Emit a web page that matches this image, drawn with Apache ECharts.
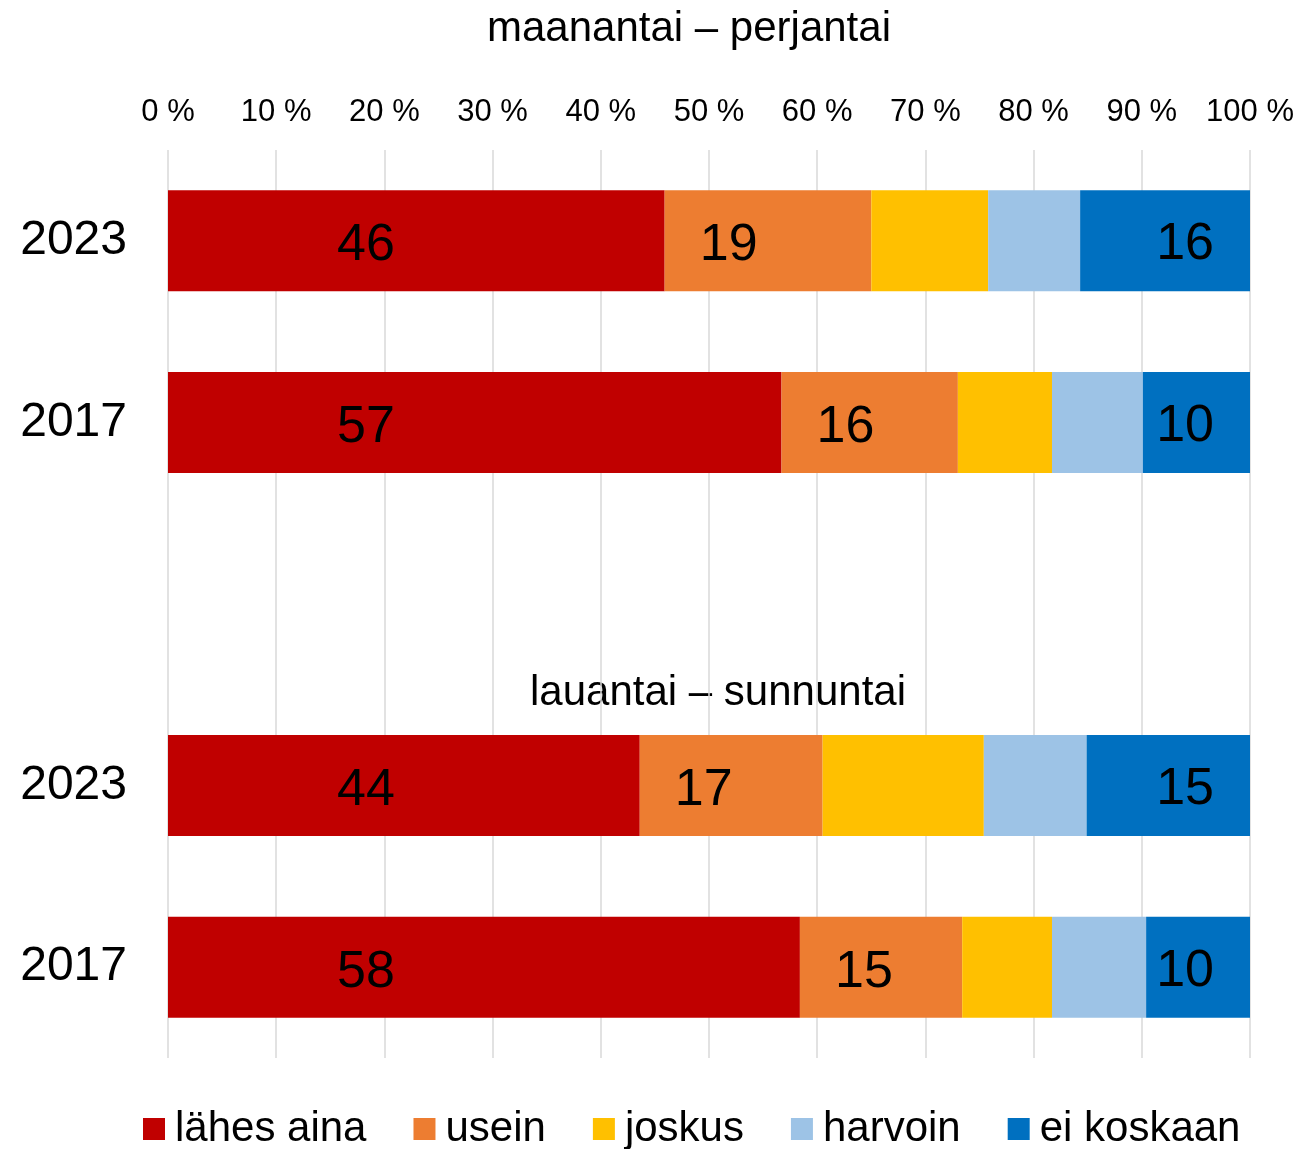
<!DOCTYPE html>
<html>
<head>
<meta charset="utf-8">
<script src="https://cdn.jsdelivr.net/npm/echarts@6/dist/echarts.min.js"></script>
<style>
html,body{margin:0;padding:0;background:#fff;}
#chart{width:1302px;height:1149px;}
</style>
</head>
<body>
<div id="chart"></div>
<script>
// Rows (top to bottom); empty row separates weekday and weekend groups
const categories = ['2023', '2017', '', '2023', '2017'];
const seriesNames = ['lähes aina', 'usein', 'joskus', 'harvoin', 'ei koskaan'];
const lahesAina = [45.9, 56.7, null, 43.6, 58.4];
const usein     = [19.1, 16.3, null, 16.9, 15.0];
const joskus    = [10.8,  8.7, null, 14.9,  8.3];
const harvoin   = [ 8.5,  8.4, null,  9.5,  8.7];
const eiKoskaan = [15.7,  9.9, null, 15.1,  9.6];
const xTicks = [0, 10, 20, 30, 40, 50, 60, 70, 80, 90, 100];
const groupTitles = ['maanantai – perjantai', 'lauantai – sunnuntai'];

const FONT = "'Liberation Sans', Arial, Helvetica, sans-serif";
const colors = ['#C00000', '#ED7D31', '#FFC000', '#9DC3E6', '#0070C0'];
const values = [lahesAina, usein, joskus, harvoin, eiKoskaan];

const labelCfg = [
  {show: true, position: [198, '50%'], align: 'center', verticalAlign: 'middle', offset: [0, 5]},
  {show: true, position: [64, '50%'], align: 'center', verticalAlign: 'middle', offset: [0, 5]},
  {show: false},
  {show: false},
  {show: true, position: 'insideRight', distance: 36, offset: [0, 4]}
];

const chart = echarts.init(document.getElementById('chart'), null, {renderer: 'canvas'});
chart.setOption({
  animation: false,
  backgroundColor: '#fff',
  textStyle: {fontFamily: FONT},
  grid: {left: 168, right: 52, top: 150, bottom: 91, containLabel: false},
  xAxis: {
    type: 'value', position: 'top', min: xTicks[0], max: xTicks[xTicks.length - 1], interval: 10,
    axisLine: {show: false}, axisTick: {show: false},
    splitLine: {show: true, lineStyle: {color: '#d9d9d9', width: 1.5}},
    axisLabel: {formatter: '{value} %', fontSize: 31, color: '#000', fontFamily: FONT, margin: 22}
  },
  yAxis: {
    type: 'category', data: categories, inverse: true,
    axisLine: {show: false}, axisTick: {show: false},
    axisLabel: {fontSize: 48, color: '#000', fontFamily: FONT, margin: 41}
  },
  legend: {
    data: seriesNames, left: 143, top: 1108, padding: 0, icon: 'rect', itemWidth: 22, itemHeight: 22, itemGap: 47,
    textStyle: {fontSize: 42, color: '#000', fontFamily: FONT, padding: [0, 0, 0, 5]}
  },
  graphic: [
    {type: 'text', x: 689, y: 29, style: {text: groupTitles[0], fontSize: 42, fontFamily: FONT, fill: '#000', align: 'center', verticalAlign: 'middle'}},
    {type: 'text', x: 718, y: 693, style: {text: groupTitles[1], fontSize: 42, fontFamily: FONT, fill: '#000', align: 'center', verticalAlign: 'middle'}}
  ],
  series: seriesNames.map((name, i) => ({
    name: name, type: 'bar', stack: 'total', barWidth: 101,
    data: values[i],
    itemStyle: {color: colors[i]},
    label: Object.assign({fontSize: 52, color: '#000', fontFamily: FONT,
      formatter: p => p.value == null ? '' : String(Math.round(p.value))}, labelCfg[i]),
    emphasis: {disabled: true}
  }))
});
</script>
</body>
</html>
